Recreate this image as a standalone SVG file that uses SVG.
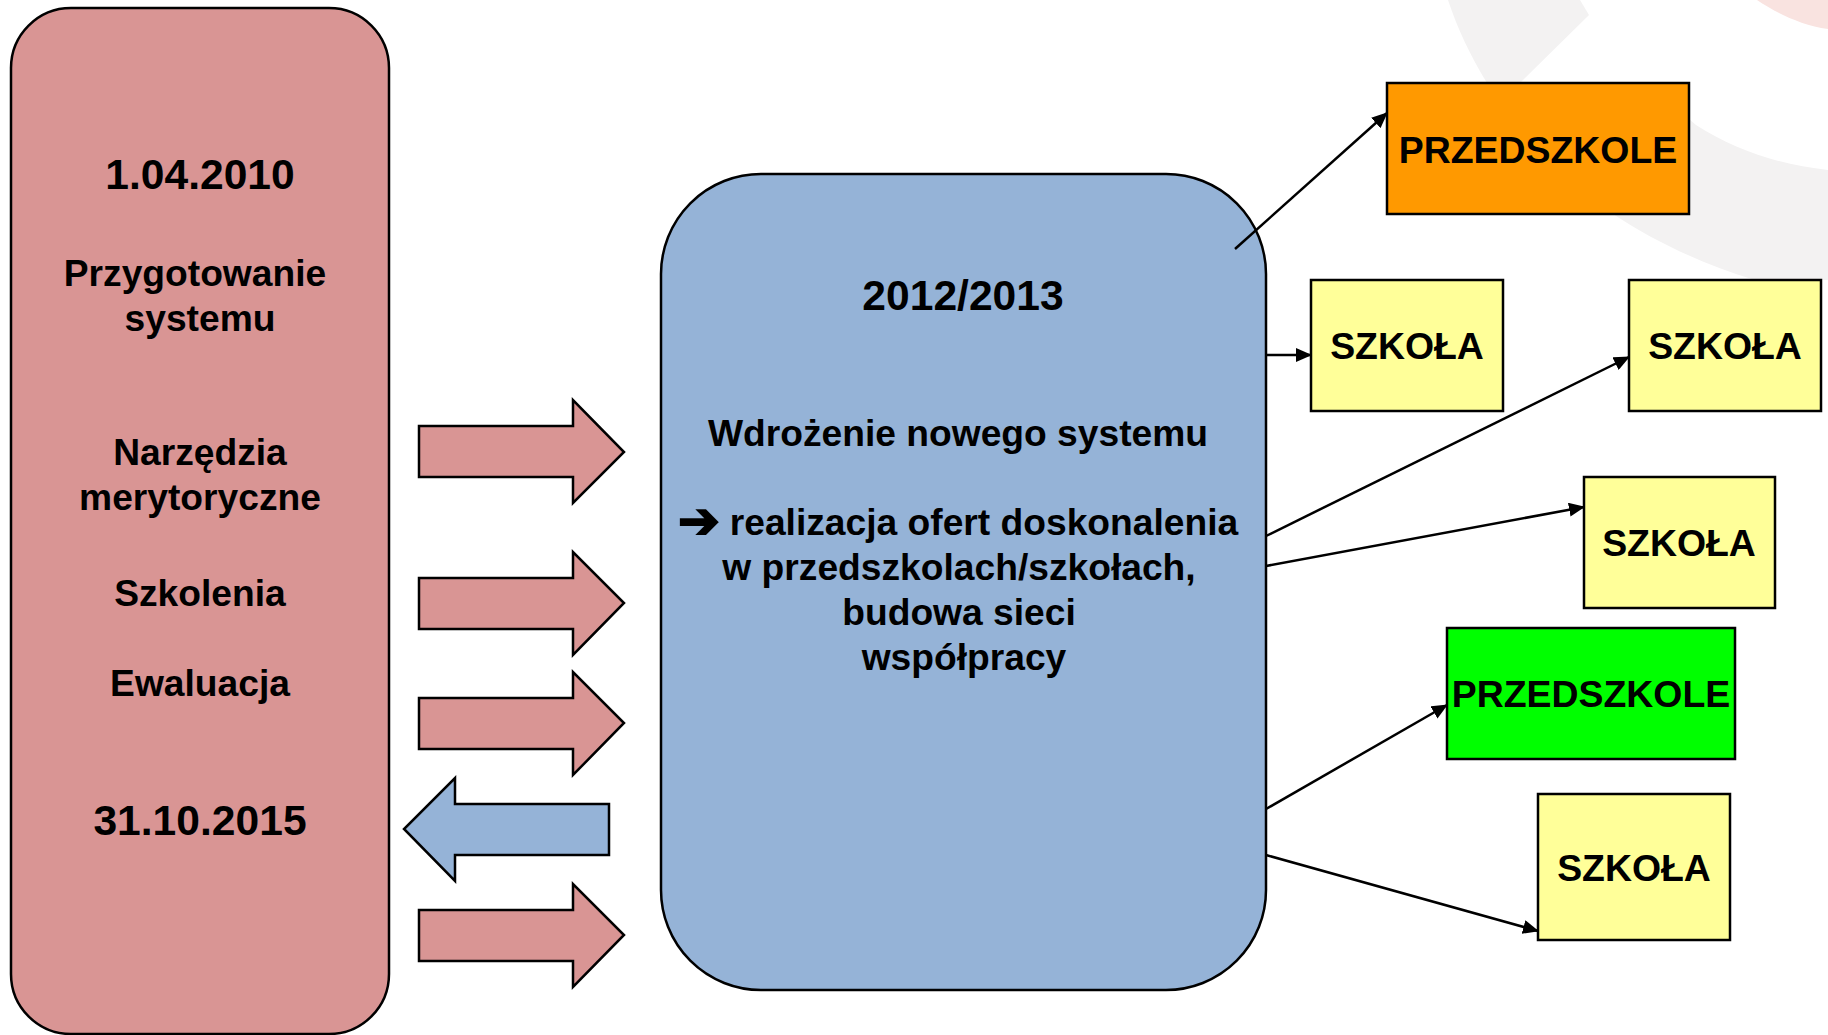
<svg xmlns="http://www.w3.org/2000/svg" width="1828" height="1035" viewBox="0 0 1828 1035">
<defs>
<marker id="ah" markerUnits="userSpaceOnUse" markerWidth="16" markerHeight="14" refX="15" refY="7" orient="auto"><path d="M0 0L16 7L0 14Z" fill="#000"/></marker>
</defs>
<style>
text{font-family:"Liberation Sans",Arial,sans-serif;font-weight:bold;fill:#000;text-anchor:middle}
.t{font-size:37.2px}.d{font-size:42.6px}.b{font-size:37.4px}
.s{stroke:#000;stroke-width:2.5}
.p{fill:#d99594}.u{fill:#95b3d7}.y{fill:#ffff99}
.c{fill:none;stroke:#000;stroke-width:2.5;marker-end:url(#ah)}
.w{fill:#f3f2f2}
</style>
<rect width="1828" height="1035" fill="#fff"/>
<g id="background">
<path class="w" d="M1448 0L1580 0L1589 15L1520 83L1487 83C1470 55 1458 30 1448 0Z"/>
<path class="w" d="M1613 214L1689 214L1689 119L1696 125C1735 150 1780 165 1828 170L1828 280L1755 280C1705 265 1655 242 1613 214Z"/>
<path d="M1757 0L1828 0L1828 29C1800 25 1775 12 1757 0Z" fill="#f9e3e0"/>
</g>
<g id="left-box">
<rect class="p s" x="11" y="8" width="378" height="1026" rx="60"/>
<text class="d" x="200" y="189">1.04.2010</text>
<text class="t" x="195" y="286">Przygotowanie</text>
<text class="t" x="200" y="331">systemu</text>
<text class="t" x="200" y="465">Narzędzia</text>
<text class="t" x="200" y="510">merytoryczne</text>
<text class="t" x="200" y="606">Szkolenia</text>
<text class="t" x="200" y="696">Ewaluacja</text>
<text class="d" x="200" y="835">31.10.2015</text>
</g>
<g id="arrow-1"><path class="p s" d="M419 426H573V400L624 452L573 503V477H419Z"/></g>
<g id="arrow-2"><path class="p s" d="M419 578H573V552L624 603L573 655V629H419Z"/></g>
<g id="arrow-3"><path class="p s" d="M419 698H573V672L624 723L573 775V749H419Z"/></g>
<g id="arrow-4"><path class="u s" d="M609 804H455V778L404 829L455 881V855H609Z"/></g>
<g id="arrow-5"><path class="p s" d="M419 910H573V884L624 935L573 987V961H419Z"/></g>
<g id="center-box">
<rect class="u s" x="661" y="174" width="605" height="816" rx="100"/>
<text class="d" x="963" y="310">2012/2013</text>
<text class="t" x="958" y="446">Wdrożenie nowego systemu</text>
<text x="699" y="538" font-size="50" stroke="#000" stroke-width="2" style="font-family:'DejaVu Sans',sans-serif">➔</text>
<text class="t" x="984" y="535">realizacja ofert doskonalenia</text>
<text class="t" x="959" y="580">w przedszkolach/szkołach,</text>
<text class="t" x="959" y="625">budowa sieci</text>
<text class="t" x="964" y="670">współpracy</text>
</g>
<g id="node-przedszkole-1"><rect class="s" fill="#ff9900" x="1387" y="83" width="302" height="131"/><text class="b" x="1538" y="163">PRZEDSZKOLE</text></g>
<g id="node-szkola-1"><rect class="y s" x="1311" y="280" width="192" height="131"/><text class="b" x="1407" y="359">SZKOŁA</text></g>
<g id="node-szkola-2"><rect class="y s" x="1629" y="280" width="192" height="131"/><text class="b" x="1725" y="359">SZKOŁA</text></g>
<g id="node-szkola-3"><rect class="y s" x="1584" y="477" width="191" height="131"/><text class="b" x="1679" y="556">SZKOŁA</text></g>
<g id="node-przedszkole-2"><rect class="s" fill="#00ff00" x="1447" y="628" width="288" height="131"/><text class="b" x="1591" y="707">PRZEDSZKOLE</text></g>
<g id="node-szkola-4"><rect class="y s" x="1538" y="794" width="192" height="146"/><text class="b" x="1634" y="881">SZKOŁA</text></g>
<g id="connectors">
<path class="c" d="M1235 249L1387 113"/>
<path class="c" d="M1266 355L1311 355"/>
<path class="c" d="M1266 536L1629 357"/>
<path class="c" d="M1266 566L1584 507"/>
<path class="c" d="M1266 809L1447 705"/>
<path class="c" d="M1266 855L1538 931"/>
</g>
</svg>
